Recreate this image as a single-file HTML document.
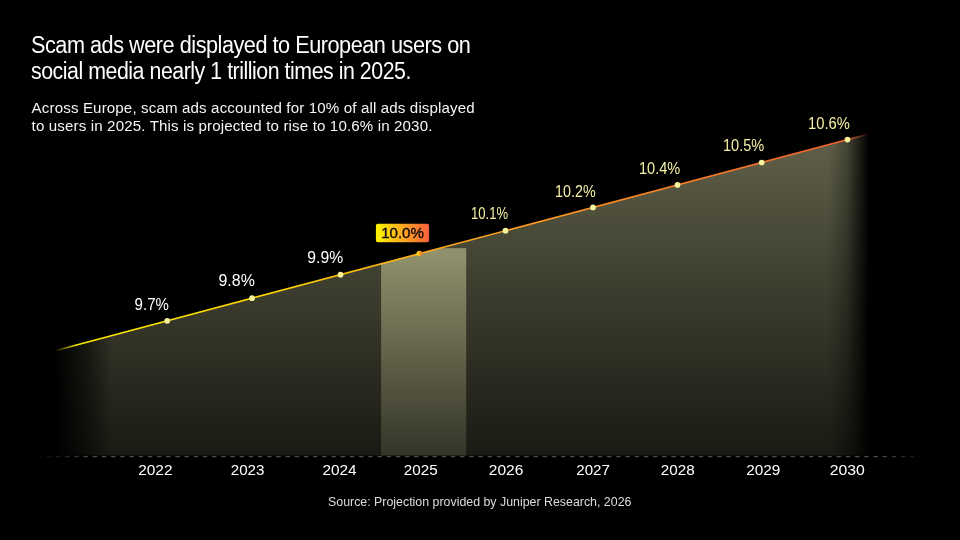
<!DOCTYPE html>
<html lang="en">
<head>
<meta charset="utf-8">
<title>Scam ads in Europe</title>
<style>
  html, body { margin: 0; padding: 0; background: #000; }
  body { width: 960px; height: 540px; overflow: hidden; position: relative;
         font-family: "Liberation Sans", sans-serif; color: #fff; }
  h1 { position: absolute; left: 31.2px; top: 32px; margin: 0; font-weight: 400;
       font-size: 23px; line-height: 26.25px; letter-spacing: -0.5px; white-space: nowrap; }
  h1 span, p.sub span { display: block; transform-origin: 0 50%; width: max-content; }
  h1 .l1 { transform: scaleX(0.9419); }
  h1 .l2 { transform: scaleX(0.9276); }
  p.sub { position: absolute; left: 31.6px; top: 99px; margin: 0; font-size: 15.1px;
          line-height: 17.5px; color: #f4f4f4; white-space: nowrap; letter-spacing: 0.14px; }
  svg { position: absolute; left: 0; top: 0; }
  .val { font-size: 15.6px; fill: #fff; }
  .proj { fill: #f6f1a6; }
  .yr { font-size: 14.8px; fill: #fff; }
  .src { font-size: 13px; fill: #dcdcdc; }
</style>
</head>
<body>
<svg width="960" height="540" viewBox="0 0 960 540">
  <defs>
    <linearGradient id="vfill" gradientUnits="userSpaceOnUse" x1="0" y1="135" x2="0" y2="456">
      <stop offset="0" stop-color="#61614a"/>
      <stop offset="0.5" stop-color="#3b3b2d"/>
      <stop offset="1" stop-color="#1a1a14"/>
    </linearGradient>
    <linearGradient id="hmask" gradientUnits="userSpaceOnUse" x1="0" y1="0" x2="960" y2="0">
      <stop offset="0.0573" stop-color="#fff" stop-opacity="0"/>
      <stop offset="0.0875" stop-color="#fff" stop-opacity="0.42"/>
      <stop offset="0.1167" stop-color="#fff" stop-opacity="1"/>
      <stop offset="0.8625" stop-color="#fff" stop-opacity="1"/>
      <stop offset="0.8823" stop-color="#fff" stop-opacity="0.72"/>
      <stop offset="0.9052" stop-color="#fff" stop-opacity="0"/>
    </linearGradient>
    <mask id="fade" maskUnits="userSpaceOnUse" x="0" y="0" width="960" height="540">
      <rect x="0" y="0" width="960" height="540" fill="url(#hmask)"/>
    </mask>
    <linearGradient id="dmask" gradientUnits="userSpaceOnUse" x1="0" y1="0" x2="960" y2="0">
      <stop offset="0.0354" stop-color="#fff" stop-opacity="0"/>
      <stop offset="0.0990" stop-color="#fff" stop-opacity="1"/>
      <stop offset="0.9167" stop-color="#fff" stop-opacity="1"/>
      <stop offset="0.9646" stop-color="#fff" stop-opacity="0"/>
    </linearGradient>
    <linearGradient id="lmask" gradientUnits="userSpaceOnUse" x1="0" y1="0" x2="960" y2="0">
      <stop offset="0.0573" stop-color="#fff" stop-opacity="0"/>
      <stop offset="0.0792" stop-color="#fff" stop-opacity="1"/>
      <stop offset="0.8812" stop-color="#fff" stop-opacity="1"/>
      <stop offset="0.9052" stop-color="#fff" stop-opacity="0"/>
    </linearGradient>
    <mask id="lfade" maskUnits="userSpaceOnUse" x="0" y="0" width="960" height="540">
      <rect x="0" y="0" width="960" height="540" fill="url(#lmask)"/>
    </mask>
    <mask id="dfade" maskUnits="userSpaceOnUse" x="0" y="0" width="960" height="540">
      <rect x="0" y="0" width="960" height="540" fill="url(#dmask)"/>
    </mask>
    <linearGradient id="lineg" gradientUnits="userSpaceOnUse" x1="56" y1="0" x2="870" y2="0">
      <stop offset="0" stop-color="#f8e900"/>
      <stop offset="0.25" stop-color="#fbd300"/>
      <stop offset="0.45" stop-color="#ffae18"/>
      <stop offset="0.7" stop-color="#f98624"/>
      <stop offset="1" stop-color="#ef5e30"/>
    </linearGradient>
    <linearGradient id="barg" gradientUnits="userSpaceOnUse" x1="0" y1="248" x2="0" y2="456">
      <stop offset="0" stop-color="#92936e"/>
      <stop offset="1" stop-color="#343428"/>
    </linearGradient>
    <linearGradient id="lblg" x1="0" y1="0" x2="1" y2="0">
      <stop offset="0" stop-color="#fff500"/>
      <stop offset="1" stop-color="#fb5f3e"/>
    </linearGradient>
    <clipPath id="under">
      <polygon points="40,354.7 890,128.3 890,456 40,456"/>
    </clipPath>
  </defs>
  <g mask="url(#fade)">
    <polygon points="40,354.7 890,128.3 890,455.5 40,455.5" fill="url(#vfill)"/>
    <rect x="381.1" y="248.2" width="85.1" height="207.3" fill="url(#barg)" clip-path="url(#under)"/>
  </g>
  <line x1="40" y1="354.7" x2="890" y2="128.3" stroke="url(#lineg)" stroke-width="1.65" mask="url(#lfade)"/>
  <line x1="37.5" y1="456.6" x2="960" y2="456.6" stroke="#fff" stroke-opacity="0.3" stroke-width="1.4" stroke-dasharray="4.5 4.685" mask="url(#dfade)"/>
  <g fill="#f7f29a">
    <circle cx="167.2" cy="320.8" r="2.85"/>
    <circle cx="252" cy="298.2" r="2.85"/>
    <circle cx="340.5" cy="274.7" r="2.85"/>
    <circle cx="505.5" cy="230.7" r="2.85"/>
    <circle cx="593" cy="207.4" r="2.85"/>
    <circle cx="677.5" cy="184.9" r="2.85"/>
    <circle cx="761.7" cy="162.5" r="2.85"/>
    <circle cx="847.5" cy="139.6" r="2.85"/>
  </g>
  <circle cx="419.5" cy="253.6" r="2.85" fill="url(#lblg)"/>
  <rect x="375.9" y="223.7" width="53.2" height="18.5" rx="2" fill="url(#lblg)"/>
  <text x="381.2" y="237.9" textLength="42.7" lengthAdjust="spacingAndGlyphs" class="val" style="fill:#0a0a0a;font-size:15.3px;stroke:#0a0a0a;stroke-width:0.35px">10.0%</text>
  <text x="134.6" y="309.7" textLength="34.3" lengthAdjust="spacingAndGlyphs" class="val">9.7%</text>
  <text x="218.5" y="285.8" textLength="36.3" lengthAdjust="spacingAndGlyphs" class="val">9.8%</text>
  <text x="307.3" y="263.0" textLength="35.8" lengthAdjust="spacingAndGlyphs" class="val">9.9%</text>
  <text x="471.0" y="219.2" textLength="37.1" lengthAdjust="spacingAndGlyphs" class="val proj">10.1%</text>
  <text x="555.1" y="196.7" textLength="40.5" lengthAdjust="spacingAndGlyphs" class="val proj">10.2%</text>
  <text x="639.0" y="173.7" textLength="41.3" lengthAdjust="spacingAndGlyphs" class="val proj">10.4%</text>
  <text x="723.0" y="151.2" textLength="41.3" lengthAdjust="spacingAndGlyphs" class="val proj">10.5%</text>
  <text x="808.0" y="128.8" textLength="41.8" lengthAdjust="spacingAndGlyphs" class="val proj">10.6%</text>
  <text x="138.2" y="474.8" textLength="34.3" lengthAdjust="spacingAndGlyphs" class="yr">2022</text>
  <text x="230.7" y="474.8" textLength="33.8" lengthAdjust="spacingAndGlyphs" class="yr">2023</text>
  <text x="322.4" y="474.8" textLength="34.2" lengthAdjust="spacingAndGlyphs" class="yr">2024</text>
  <text x="403.8" y="474.8" textLength="33.9" lengthAdjust="spacingAndGlyphs" class="yr">2025</text>
  <text x="488.8" y="474.8" textLength="34.6" lengthAdjust="spacingAndGlyphs" class="yr">2026</text>
  <text x="576.3" y="474.8" textLength="33.6" lengthAdjust="spacingAndGlyphs" class="yr">2027</text>
  <text x="660.8" y="474.8" textLength="33.9" lengthAdjust="spacingAndGlyphs" class="yr">2028</text>
  <text x="746.3" y="474.8" textLength="34.1" lengthAdjust="spacingAndGlyphs" class="yr">2029</text>
  <text x="829.8" y="474.8" textLength="35.1" lengthAdjust="spacingAndGlyphs" class="yr">2030</text>
  <text x="328" y="505.7" textLength="303.4" lengthAdjust="spacingAndGlyphs" class="src">Source: Projection provided by Juniper Research, 2026</text>
</svg>
<h1><span class="l1">Scam ads were displayed to European users on</span><span class="l2">social media nearly 1 trillion times in 2025.</span></h1>
<p class="sub"><span>Across Europe, scam ads accounted for 10% of all ads displayed</span><span>to users in 2025. This is projected to rise to 10.6% in 2030.</span></p>
</body>
</html>
